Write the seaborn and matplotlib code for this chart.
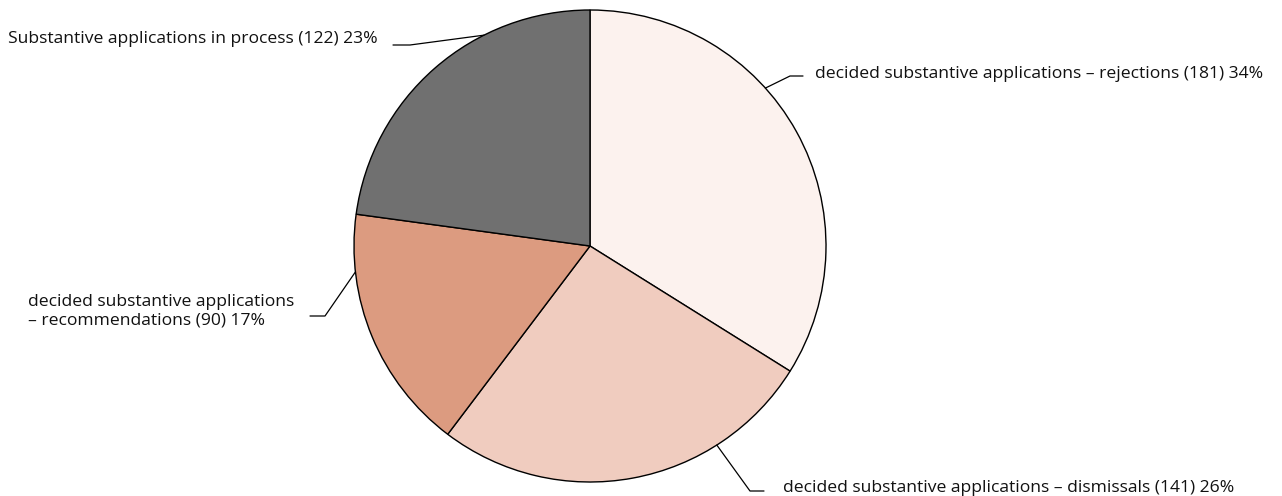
import numpy as np
import matplotlib.pyplot as plt
import seaborn as sns

# Data
categories = [
    "decided substantive applications – rejections",
    "decided substantive applications – dismissals",
    "decided substantive applications\n– recommendations",
    "Substantive applications in process",
]
counts = [181, 141, 90, 122]
colors = ["#FCF2EE", "#F0CCBF", "#DC9B80", "#707070"]

sns.set_theme(style="white")
plt.rcParams["font.family"] = ["Open Sans", "DejaVu Sans"]

W, H = 1282, 496
cx, cy, R = 590, 246, 236  # pie centre / radius in pixels


def px(x, y):
    # pixel position -> data coords (radius 1, centre 0,0)
    return (x - cx) / R, (cy - y) / R


fig = plt.figure(figsize=(W / 100, H / 100), dpi=100)
ax = fig.add_axes([0, 0, 1, 1])

ax.pie(counts, colors=colors, startangle=90, counterclock=False, radius=1,
       wedgeprops=dict(edgecolor="black", linewidth=1))
ax.set_xlim(-cx / R, (W - cx) / R)
ax.set_ylim(-(H - cy) / R, cy / R)
ax.axis("off")

total = sum(counts)
pcts = [round(100 * c / total) for c in counts]

# label layout: edge angle (deg), elbow px, end px, text px, alignment
layout = [
    (42.0, (790, 76), (803, 76), (815, 74), "left"),
    (-57.5, (750, 491), (764, 491), (783, 488), "left"),
    (-173.7, (325, 316), (310, 316), (28, 311), "left"),
    (116.7, (410, 45), (393, 45), (378, 39), "right"),
]

for cat, n, p, (ang, elbow, end, txt, ha) in zip(categories, counts, pcts, layout):
    a = np.deg2rad(ang)
    ex, ey = np.cos(a), np.sin(a)
    bx, by = px(*elbow)
    fx, fy = px(*end)
    ax.plot([ex, bx, fx], [ey, by, fy], color="black", lw=0.9)
    tx, ty = px(*txt)
    ax.text(tx, ty, f"{cat} ({n}) {p}%", ha=ha, va="center",
            fontsize=12.6, color="#111111", linespacing=1.2)

fig.savefig("out.png", dpi=100)
